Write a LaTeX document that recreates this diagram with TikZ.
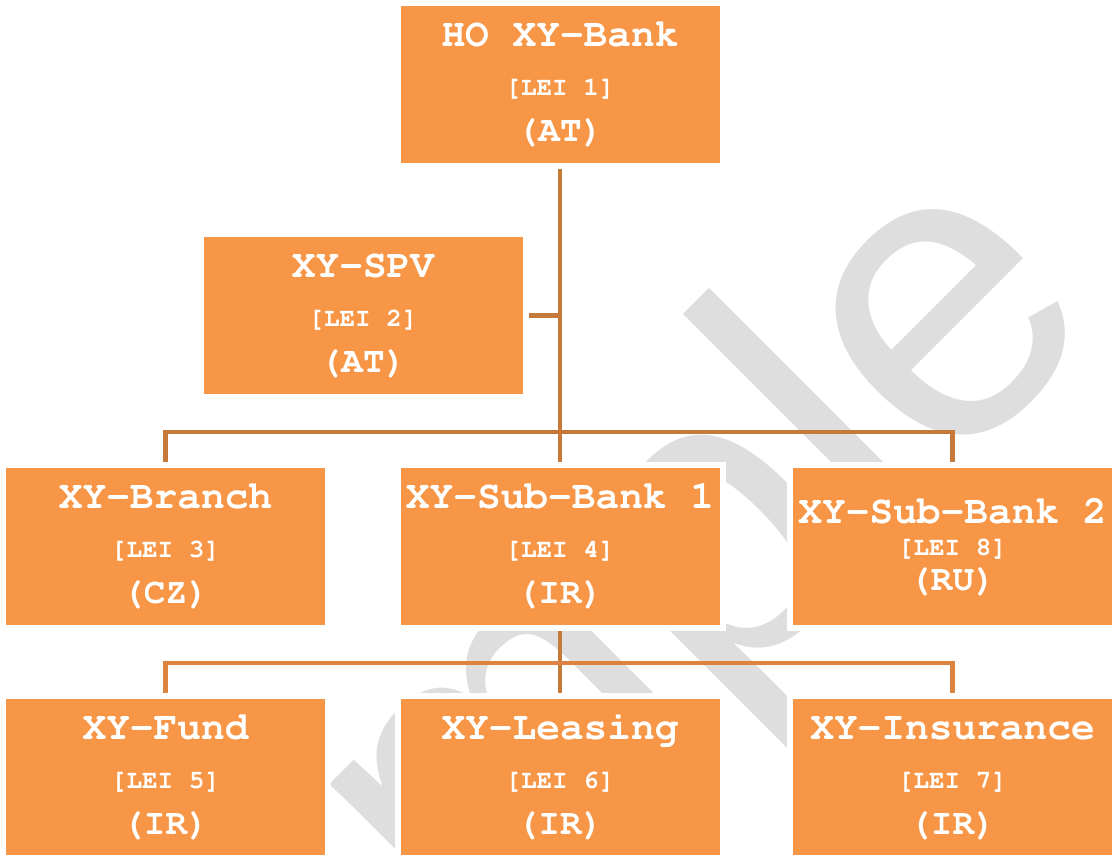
\documentclass[tikz,border=0pt]{standalone}
\usepackage{fontspec}
\newfontfamily\wmfont{Liberation Sans}
\newcommand{\courfont}{\fontencoding{T1}\fontfamily{pcr}\bfseries}
\definecolor{boxorange}{HTML}{F79646}
\definecolor{wireup}{HTML}{C57A3B}
\definecolor{wirelow}{HTML}{DC843F}
\definecolor{wmgray}{HTML}{DEDEDE}
\pgfdeclarelayer{wmark}
\pgfdeclarelayer{wires}
\pgfsetlayers{wmark,wires,main}
\newcommand{\nm}[1]{{\fontsize{39.5}{46}\selectfont #1}}
\newcommand{\lei}[1]{{\fontsize{26}{46}\selectfont #1}}
\newcommand{\ctry}[1]{{\fontsize{36}{46}\selectfont #1}}

\begin{document}
\begin{tikzpicture}[x=1pt, y=-1pt,
    unit/.style={draw=white, line width=6pt, fill=boxorange, text=white,
      minimum width=325pt, minimum height=163pt, inner sep=0pt, outer sep=0pt,
      align=center, font=\courfont\fontsize{24}{46}\selectfont,
      text height=113pt, text depth=0pt},
    tight/.style={text height=87pt},
    wire/.style={line width=4.5pt, draw=wireup},
    wmtext/.style={anchor=base east, rotate=45, inner sep=0pt, text=wmgray,
      font=\wmfont\fontsize{420}{420}\selectfont}]
				\useasboundingbox (0,0) rectangle (1113,854);
				\clip (0,0) rectangle (1113,854);
				\begin{pgfonlayer}{wmark}
				\node[wmtext] (wm) at (1110, 318) {Sample};
				\end{pgfonlayer}
				\node[unit] (ho) at (560, 84.5) {\nm{HO XY-Bank}\\[3pt]\lei{[LEI 1]}\\\ctry{(AT)}};
				\node[unit] (spv) at (363, 315.5) {\nm{XY-SPV}\\[3pt]\lei{[LEI 2]}\\\ctry{(AT)}};
				\node[unit] (branch) at (165.5, 546.5) {\nm{XY-Branch}\\[3pt]\lei{[LEI 3]}\\\ctry{(CZ)}};
				\node[unit] (sub1) at (560, 546.5) {\nm{XY-Sub-Bank 1}\\[3pt]\lei{[LEI 4]}\\\ctry{(IR)}};
				\node[unit, tight] (sub2) at (952.5, 546.5) {\nm{XY-Sub-Bank 2}\\[-14pt]\lei{[LEI 8]}\\[-11pt]\ctry{(RU)}};
				\node[unit] (fund) at (165.5, 777.5) {\nm{XY-Fund}\\[3pt]\lei{[LEI 5]}\\\ctry{(IR)}};
				\node[unit] (leasing) at (560, 777.5) {\nm{XY-Leasing}\\[3pt]\lei{[LEI 6]}\\\ctry{(IR)}};
				\node[unit] (insur) at (952.5, 777.5) {\nm{XY-Insurance}\\[3pt]\lei{[LEI 7]}\\\ctry{(IR)}};
				\begin{pgfonlayer}{wires}
				\coordinate (bus1) at (560, 432);
				\coordinate (bus2) at (560, 663);
				\draw[wire] (ho.south) -- (sub1.north);
				\draw[wire] (spv.east) -- (spv.east -| ho.south);
				\draw[wire] (branch.north) |- (bus1) -| (sub2.north);
				\draw[wire] (sub1.south) -- (leasing.north);
				\draw[wire, draw=wirelow] (fund.north) |- (bus2) -| (insur.north);
				\end{pgfonlayer}
			\end{tikzpicture}
\end{document}
